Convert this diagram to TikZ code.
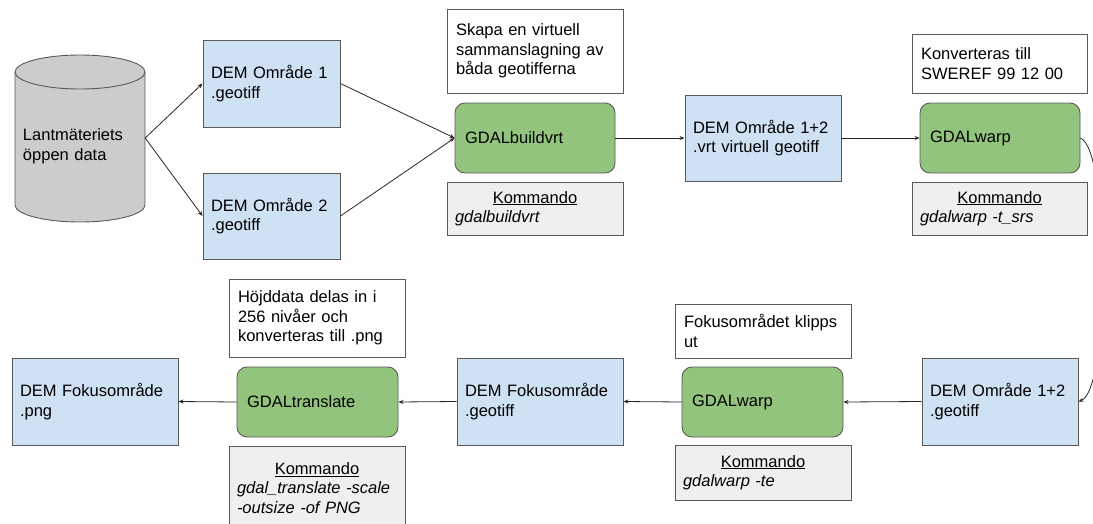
\documentclass[tikz,border=0pt]{standalone}
\usepackage{fontspec}
\setmainfont{Liberation Sans}
\usetikzlibrary{arrows.meta}
\definecolor{bluefill}{HTML}{CFE2F3}
\definecolor{greenfill}{HTML}{93C47D}
\definecolor{grayfill}{HTML}{EFEFEF}
\definecolor{cylfill}{HTML}{CCCCCC}
\definecolor{edgegray}{HTML}{595959}
\begin{document}
\begin{tikzpicture}[x=1pt,y=-1pt,
  every node/.style={font=\fontsize{16.5}{19.5}\selectfont, inner xsep=8pt, inner ysep=0pt, align=left},
  base/.style={draw=edgegray, line width=0.9pt},
  datafile/.style={base, fill=bluefill},
  tool/.style={base, fill=greenfill, rounded corners=10pt},
  note/.style={base, fill=white},
  cmd/.style={base, fill=grayfill},
  conn/.style={draw=black!85, line width=0.8pt, -{Stealth[length=5pt,width=4pt]}},
]
\useasboundingbox (0,0) rectangle (1093,523);

% database cylinder
\draw[base, fill=cylfill] (15,72) -- (15,205) arc[start angle=180, end angle=0, x radius=65, y radius=17] -- (145,72);
\draw[base, fill=cylfill] (80,72) ellipse[x radius=65, y radius=17];
\node[minimum width=130pt, minimum height=150pt, text width=114pt] (db) at (80,146) {Lantmäteriets\\öppen data};

% top row
\node[datafile, minimum width=137pt, minimum height=87pt, text width=121pt] (d1) at (271.5,83.5) {DEM Område 1\\.geotiff};
\node[datafile, minimum width=137pt, minimum height=86pt, text width=121pt] (d2) at (271.5,216) {DEM Område 2\\.geotiff};
\node[note, minimum width=176pt, minimum height=84pt, text width=158pt] (sk) at (535,51) {Skapa en virtuell\\sammanslagning av\\båda geotifferna};
\node[tool, minimum width=160pt, minimum height=70pt, text width=140pt] (gb) at (535,138) {GDALbuildvrt};
\node[cmd, minimum width=176pt, minimum height=53pt, text width=160pt] (k1) at (535,208.5) {\makebox[\linewidth]{\underline{Kommando}}\\\textit{gdalbuildvrt}};
\node[datafile, minimum width=156pt, minimum height=86pt, text width=140pt] (dv) at (763,138) {DEM Område 1+2\\.vrt virtuell geotiff};
\node[note, minimum width=175pt, minimum height=59pt, text width=157pt] (kv) at (999.5,63.5) {Konverteras till\\SWEREF 99 12 00};
\node[tool, minimum width=160pt, minimum height=70pt, text width=140pt] (gw1) at (1000,138) {GDALwarp};
\node[cmd, minimum width=175pt, minimum height=53pt, text width=159pt] (k2) at (999.5,208.5) {\makebox[\linewidth]{\underline{Kommando}}\\\textit{gdalwarp -t\_srs}};

% bottom row
\node[datafile, minimum width=156pt, minimum height=87pt, text width=140pt] (g1) at (1000,401.5) {DEM Område 1+2\\.geotiff};
\node[note, minimum width=176pt, minimum height=54pt, text width=158pt] (fo) at (763,331) {Fokusområdet klipps\\ut};
\node[tool, minimum width=161pt, minimum height=70pt, text width=141pt] (gw2) at (762.5,402) {GDALwarp};
\node[cmd, minimum width=176pt, minimum height=55pt, text width=160pt] (k3) at (763,472.5) {\makebox[\linewidth]{\underline{Kommando}}\\\textit{gdalwarp -te}};
\node[datafile, minimum width=166pt, minimum height=87pt, text width=150pt] (fg) at (540,401.5) {DEM Fokusområde\\.geotiff};
\node[note, minimum width=176pt, minimum height=78pt, text width=158pt] (hd) at (317,318) {Höjddata delas in i\\256 nivåer och\\konverteras till .png};
\node[tool, minimum width=161pt, minimum height=70pt, text width=141pt] (gt) at (317.5,402) {GDALtranslate};
\node[cmd, minimum width=176pt, minimum height=84pt, text width=160pt] (k4) at (317,488) {\makebox[\linewidth]{\underline{Kommando}}\\\textit{gdal\_translate -scale}\\\textit{-outsize -of PNG}};
\node[datafile, minimum width=166pt, minimum height=87pt, text width=150pt] (fp) at (95,401.5) {DEM Fokusområde\\.png};

% connectors
\draw[conn] ([yshift=8pt]db.east) -- (d1.west);
\draw[conn] ([yshift=8pt]db.east) -- (d2.west);
\draw[conn] (d1.east) -- (gb.west);
\draw[conn] (d2.east) -- (gb.west);
\draw[conn] (gb.east) -- (dv.west);
\draw[conn] (dv.east) -- (gw1.west);
\draw[conn] (gw1.east) .. controls (1110,150) and (1110,390) .. (g1.east);
\draw[conn] (g1.west) -- (gw2.east);
\draw[conn] (gw2.west) -- (fg.east);
\draw[conn] (fg.west) -- (gt.east);
\draw[conn] (gt.west) -- (fp.east);
\end{tikzpicture}
\end{document}
